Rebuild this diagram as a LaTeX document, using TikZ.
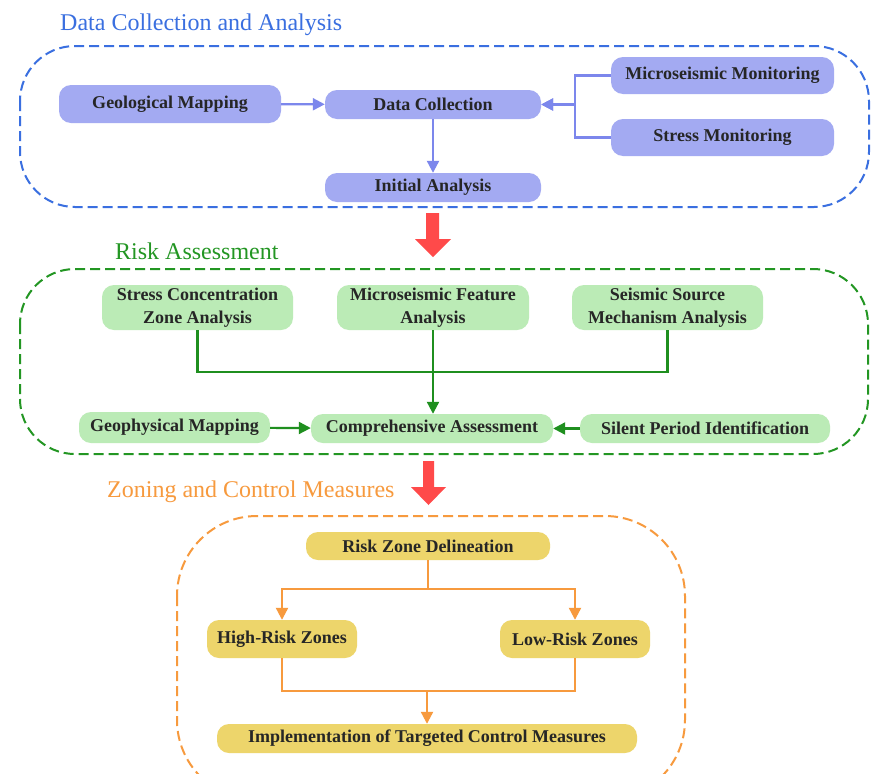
\documentclass[tikz,border=0pt]{standalone}
\usepackage{fontspec}
\setmainfont{LiberationSerif}[Extension = .ttf, UprightFont = *-Regular, BoldFont = *-Bold]
\usetikzlibrary{arrows.meta}
\definecolor{clblue}{HTML}{3A6FE0}
\definecolor{fillblue}{HTML}{A3AAF2}
\definecolor{lineblue}{HTML}{7C87EC}
\definecolor{clgreen}{HTML}{239623}
\definecolor{fillgreen}{HTML}{BBEBB6}
\definecolor{linegreen}{HTML}{1F8F1F}
\definecolor{clorange}{HTML}{F79A3E}
\definecolor{fillyellow}{HTML}{EDD56B}
\definecolor{bigred}{HTML}{FF4A4A}
\definecolor{txt}{HTML}{262626}

\begin{document}
\begin{tikzpicture}[x = 1pt, y = -1pt,
	box/.style = {rounded corners = 12pt, inner sep = 0pt, align = center, text = txt, font = \fontsize{18}{23}\selectfont\bfseries},
	bluebox/.style = {box, fill = fillblue},
	greenbox/.style = {box, fill = fillgreen},
	yellowbox/.style = {box, fill = fillyellow},
	cluster/.style = {rounded corners = 55pt, line width = 2pt, dash pattern = on 10pt off 5pt},
	title/.style = {anchor = west, inner sep = 0pt, font = \fontsize{24}{28}\selectfont},
	link/.style = {line width = 2.2pt, -{Triangle[length = 12pt, width = 12pt]}},
	plain/.style = {line width = 2.2pt}]
	\clip (0,0) rectangle (871,774);
	\fill [white] (0,0) rectangle (871,774);

	\draw [cluster, clblue] (20,46) rectangle (869,207);
	\node [title, text = clblue] (t1) at (60,25) {Data Collection and Analysis};
	\node [bluebox, minimum width = 222pt, minimum height = 38pt] (gm) at (170,104) {Geological Mapping};
	\node [bluebox, minimum width = 216pt, minimum height = 29pt] (dc) at (433,104.5) {Data Collection};
	\node [bluebox, minimum width = 223pt, minimum height = 37pt] (mm) at (722.5,75.5) {Microseismic Monitoring};
	\node [bluebox, minimum width = 223pt, minimum height = 37pt] (sm) at (722.5,137.5) {Stress Monitoring};
	\node [bluebox, minimum width = 216pt, minimum height = 29pt] (ia) at (433,187.5) {Initial Analysis};
	\coordinate (fork) at (575,104.5);
	\draw [link, lineblue] (gm) -- (dc);
	\draw [link, lineblue] (mm.west) -| (fork) -- (dc.east);
	\draw [link, lineblue] (sm.west) -| (fork) -- (dc.east);
	\draw [link, lineblue] (dc) -- (ia);

	\fill [bigred] (426,213) -- (439,213) -- (439,239) -- (451,239) -- (433,257) -- (415,239) -- (426,239) -- cycle;

	\draw [cluster, clgreen] (20,269) rectangle (868,454);
	\node [title, text = clgreen] (t2) at (115,251) {Risk Assessment};
	\node [greenbox, minimum width = 191pt, minimum height = 45pt] (scza) at (197.5,307.5) {Stress Concentration\\Zone Analysis};
	\node [greenbox, minimum width = 192pt, minimum height = 45pt] (mfa) at (433,307.5) {Microseismic Feature\\Analysis};
	\node [greenbox, minimum width = 191pt, minimum height = 45pt] (ssma) at (667.5,307.5) {Seismic Source\\Mechanism Analysis};
	\node [greenbox, minimum width = 191pt, minimum height = 31pt] (gpm) at (174.5,427.5) {Geophysical Mapping};
	\node [greenbox, minimum width = 242pt, minimum height = 29pt] (ca) at (432,428.5) {Comprehensive Assessment};
	\node [greenbox, minimum width = 250pt, minimum height = 29pt] (spi) at (705,428.5) {Silent Period Identification};
	\coordinate (join) at (433,372);
	\draw [plain, linegreen] (scza.south) |- (join) -| (ssma.south);
	\draw [link, linegreen] (mfa.south) -- (mfa.south |- ca.north);
	\draw [link, linegreen] (gpm) -- (ca);
	\draw [link, linegreen] (spi) -- (ca);

	\fill [bigred] (423,461) -- (434,461) -- (434,487) -- (446,487) -- (428.5,505) -- (411,487) -- (423,487) -- cycle;

	\draw [cluster, clorange, rounded corners = 80pt] (177,516) rectangle (685,800);
	\node [title, text = clorange] (t3) at (107,492) {Zoning and Control Measures};
	\node [yellowbox, minimum width = 244pt, minimum height = 28pt] (rzd) at (428,546) {Risk Zone Delineation};
	\node [yellowbox, minimum width = 150pt, minimum height = 38pt] (hrz) at (282,639) {High-Risk Zones};
	\node [yellowbox, minimum width = 150pt, minimum height = 38pt] (lrz) at (575,639) {Low-Risk Zones};
	\node [yellowbox, minimum width = 420pt, minimum height = 29pt] (itcm) at (427,738.5) {Implementation of Targeted Control Measures};
	\coordinate (split) at (428,589);
	\coordinate (merge) at (427,691);
	\draw [plain, clorange] (rzd.south) -- (split);
	\draw [link, clorange] (split) -| (hrz.north);
	\draw [link, clorange] (split) -| (lrz.north);
	\draw [plain, clorange] (hrz.south) |- (merge) -| (lrz.south);
	\draw [link, clorange] (merge) -- (itcm);
\end{tikzpicture}
\end{document}
